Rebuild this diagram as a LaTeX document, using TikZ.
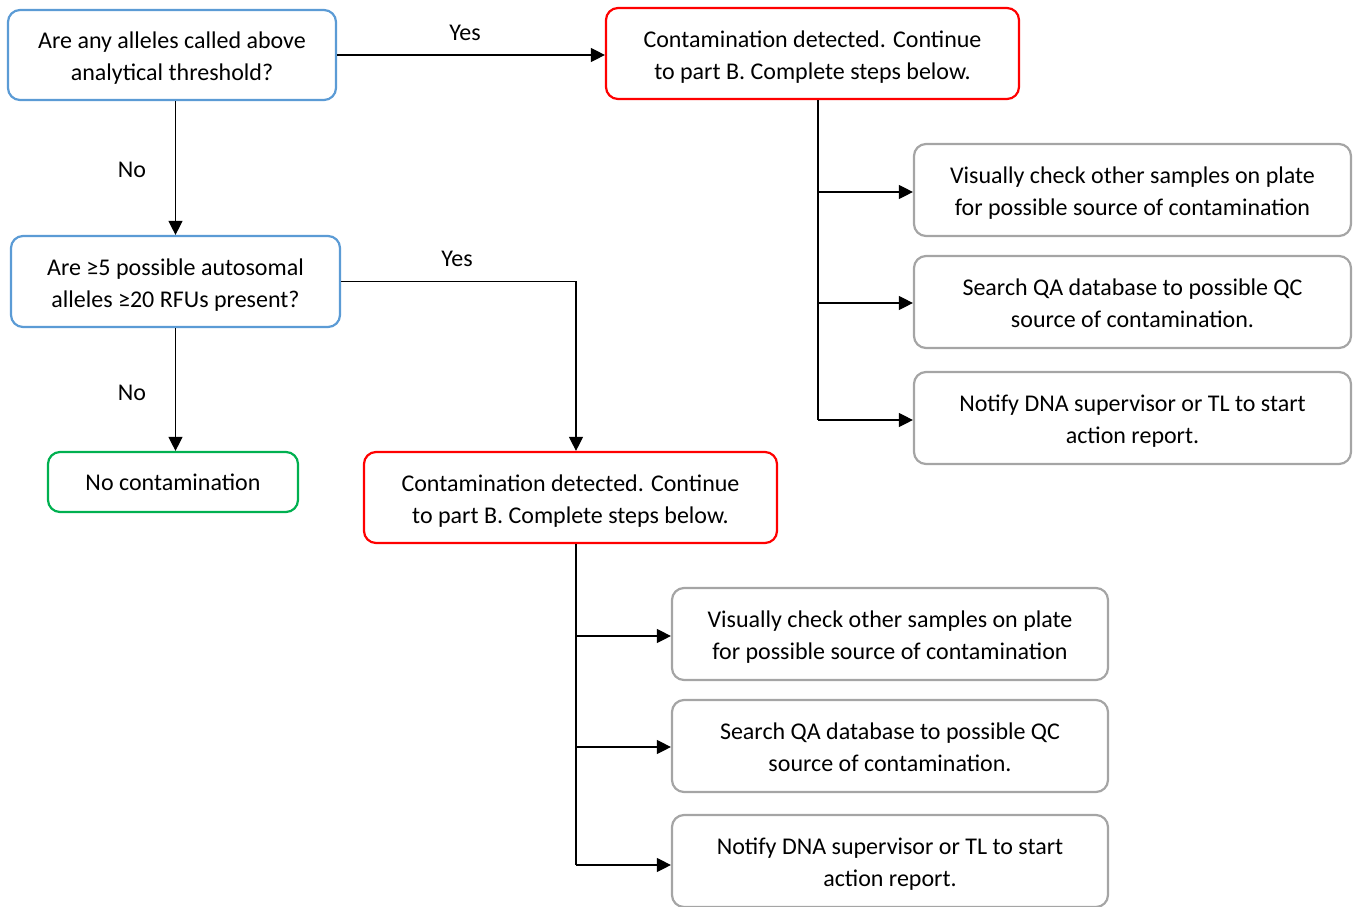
\documentclass[tikz,border=0pt]{standalone}
\usepackage{fontspec}
\setmainfont{Carlito}
\usetikzlibrary{arrows.meta}
\definecolor{qblue}{HTML}{5B9BD5}
\definecolor{cred}{HTML}{FF0000}
\definecolor{ngreen}{HTML}{00B050}
\definecolor{sgray}{HTML}{A5A5A5}
\newcommand\tstr{\rule{0pt}{28.8pt}}
\begin{document}
\begin{tikzpicture}[x=1pt,y=-1pt,
  box/.style={draw,rounded corners=12pt,line width=2.2pt,align=center,inner sep=0pt,
    font=\fontsize{24}{32}\selectfont},
  qbox/.style={box,draw=qblue,minimum width=328pt,minimum height=90pt},
  rbox/.style={box,draw=cred,minimum width=413pt,minimum height=91pt},
  gbox/.style={box,draw=ngreen,minimum width=250pt,minimum height=60pt},
  sbox/.style={box,draw=sgray,minimum width=437pt,minimum height=92pt},
  conn/.style={line width=1.2pt,-{Triangle[length=14pt,width=14pt]}},
  plain/.style={line width=1.2pt},
  lbl/.style={font=\fontsize{24}{28}\selectfont,inner sep=0pt}]
\useasboundingbox (0,0) rectangle (1357,907);
\node[qbox] (q1) at (172,55) {\tstr Are any alleles called above\\\strut analytical threshold?};
\node[rbox] (c1) at (812.5,53.5) {\tstr Contamination detected. Continue\\\strut to part B. Complete steps below.};
\node[qbox,minimum width=329pt,minimum height=91pt] (q2) at (175.5,281.5) {\tstr Are ≥5 possible autosomal\\\strut alleles ≥20 RFUs present?};
\node[gbox] (nc) at (173,482) {No contamination};
\node[rbox] (c2) at (570.5,497.5) {\tstr Contamination detected. Continue\\\strut to part B. Complete steps below.};
\node[sbox] (r1) at (1132.5,190) {\tstr Visually check other samples on plate\\\strut for possible source of contamination};
\node[sbox] (r2) at (1132.5,302) {\tstr Search QA database to possible QC\\\strut source of contamination.};
\node[sbox] (r3) at (1132.5,418) {\tstr Notify DNA supervisor or TL to start\\\strut action report.};
\node[sbox,minimum width=436pt] (l1) at (890,634) {\tstr Visually check other samples on plate\\\strut for possible source of contamination};
\node[sbox,minimum width=436pt] (l2) at (890,746) {\tstr Search QA database to possible QC\\\strut source of contamination.};
\node[sbox,minimum width=436pt] (l3) at (890,861) {\tstr Notify DNA supervisor or TL to start\\\strut action report.};
% labels
\node[lbl] (y1) at (465,33) {Yes};
\node[lbl] (n1) at (132,170) {No};
\node[lbl] (y2) at (457,259) {Yes};
\node[lbl] (n2) at (132,393) {No};
% connectors
\draw[conn] (q1.east) -- (q1.east -| c1.west);
\draw[conn] (q2.north |- q1.south) -- (q2.north);
\draw[conn] (q2.east) -| ([xshift=5.5pt]c2.north);
\draw[conn] (q2.south) -- (q2.south |- nc.north);
\coordinate (t1) at ([xshift=5.5pt]c1.south);
\coordinate (t2) at ([xshift=5.5pt]c2.south);
\draw[plain] (t1) -- (t1 |- 0,420);
\draw[conn] (t1 |- 0,192) -- (r1.west |- 0,192);
\draw[conn] (t1 |- 0,303) -- (r2.west |- 0,303);
\draw[conn] (t1 |- 0,420) -- (r3.west |- 0,420);
\draw[plain] (t2) -- (t2 |- 0,865);
\draw[conn] (t2 |- 0,636) -- (l1.west |- 0,636);
\draw[conn] (t2 |- 0,747) -- (l2.west |- 0,747);
\draw[conn] (t2 |- 0,865) -- (l3.west |- 0,865);
\end{tikzpicture}
\end{document}
